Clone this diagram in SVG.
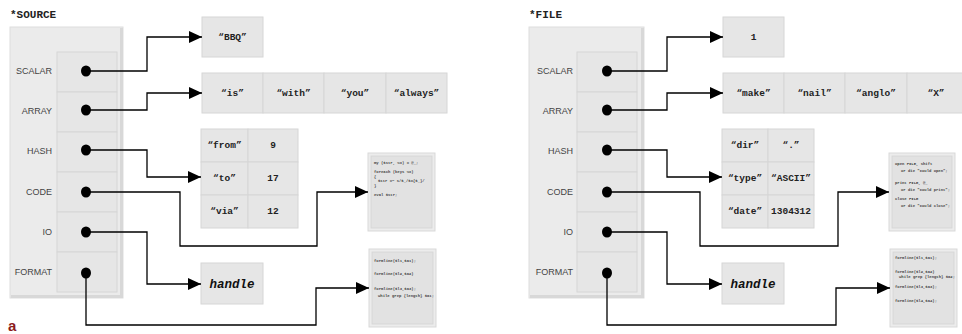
<svg xmlns="http://www.w3.org/2000/svg" width="962" height="334" viewBox="0 0 962 334">
  <style>
    .title { font-family: "Liberation Mono", monospace; font-weight: bold; font-size: 11px; fill: #222; }
    .slot { font-family: "Liberation Sans", Arial, sans-serif; font-size: 9px; fill: #444; text-anchor: end; }
    .val { font-family: "Liberation Mono", monospace; font-weight: bold; font-size: 9.5px; fill: #222; text-anchor: middle; }
    .fh { font-family: "Liberation Mono", monospace; font-weight: bold; font-style: italic; font-size: 12.5px; fill: #111; text-anchor: middle; }
    .code { font-family: "Liberation Mono", monospace; font-weight: bold; font-size: 3.9px; fill: #444; }
    .panel { fill: #ebebeb; stroke: #dedede; stroke-width: 1; }
    .shade { fill: #d8d8d8; }
    .cell { fill: #e6e6e6; stroke: #d6d6d6; stroke-width: 1; }
    .frame { fill: #ececec; stroke: #d9d9d9; stroke-width: 1; }
    .inner { fill: #e2e2e2; stroke: #d4d4d4; stroke-width: 0.8; }
    .dot { fill: #000; }
    .wire { fill: none; stroke: #000; stroke-width: 1.3; marker-end: url(#head); }
    .tag { font-family: "Liberation Sans", Arial, sans-serif; font-weight: bold; font-size: 15px; fill: #8b1c1c; }
  </style>
  <defs>
    <marker id="head" markerWidth="14" markerHeight="12" refX="13" refY="6" orient="auto" markerUnits="userSpaceOnUse">
      <path d="M0,0 L13,6 L0,12 Z" fill="#000"/>
    </marker>
  </defs>

  <rect width="962" height="334" fill="#fff"/>

  <!-- ===== glob *SOURCE ===== -->
  <g id="source-glob">
    <text class="title" x="10" y="18">*SOURCE</text>
    <rect class="panel" x="10" y="27" width="113" height="271"/>
    <rect class="shade" x="120" y="28" width="3" height="270"/>
    <rect class="shade" x="11" y="295" width="112" height="3"/>
    <rect class="cell" x="57" y="52" width="60" height="40"/>
    <rect class="cell" x="57" y="92" width="60" height="40"/>
    <rect class="cell" x="57" y="132" width="60" height="40"/>
    <rect class="cell" x="57" y="172" width="60" height="40"/>
    <rect class="cell" x="57" y="212" width="60" height="40"/>
    <rect class="cell" x="57" y="252" width="60" height="40"/>
    <text class="slot" x="52" y="74">SCALAR</text>
    <text class="slot" x="52" y="114">ARRAY</text>
    <text class="slot" x="52" y="154">HASH</text>
    <text class="slot" x="52" y="195">CODE</text>
    <text class="slot" x="52" y="235">IO</text>
    <text class="slot" x="52" y="275">FORMAT</text>
    <ellipse class="dot" cx="86" cy="71" rx="5" ry="5.5"/>
    <ellipse class="dot" cx="86" cy="110" rx="5" ry="5.5"/>
    <ellipse class="dot" cx="86" cy="150" rx="5" ry="5.5"/>
    <ellipse class="dot" cx="86" cy="192" rx="5" ry="5.5"/>
    <ellipse class="dot" cx="86" cy="232" rx="5" ry="5.5"/>
    <ellipse class="dot" cx="86" cy="273" rx="5" ry="5.5"/>
  </g>

  <g id="source-scalar">
    <rect class="cell" x="202" y="17" width="61" height="40"/>
    <text class="val" x="232.5" y="40">“BBQ”</text>
  </g>

  <g id="source-array">
    <rect class="cell" x="202" y="73" width="61" height="40"/>
    <rect class="cell" x="263" y="73" width="61" height="40"/>
    <rect class="cell" x="324" y="73" width="62" height="40"/>
    <rect class="cell" x="386" y="73" width="61" height="40"/>
    <text class="val" x="232.5" y="96">“is”</text>
    <text class="val" x="293.5" y="96">“with”</text>
    <text class="val" x="355" y="96">“you”</text>
    <text class="val" x="416.5" y="96">“always”</text>
  </g>

  <g id="source-hash">
    <rect class="cell" x="201" y="129" width="47" height="33"/>
    <rect class="cell" x="248" y="129" width="50" height="33"/>
    <rect class="cell" x="201" y="162" width="47" height="33"/>
    <rect class="cell" x="248" y="162" width="50" height="33"/>
    <rect class="cell" x="201" y="195" width="47" height="33"/>
    <rect class="cell" x="248" y="195" width="50" height="33"/>
    <text class="val" x="224.5" y="148">“from”</text>
    <text class="val" x="273" y="148">9</text>
    <text class="val" x="224.5" y="181">“to”</text>
    <text class="val" x="273" y="181">17</text>
    <text class="val" x="224.5" y="214">“via”</text>
    <text class="val" x="273" y="214">12</text>
  </g>

  <g id="source-code">
    <rect class="frame" x="368" y="153" width="67" height="78"/>
    <rect class="inner" x="371" y="156" width="61" height="72"/>
    <text class="code" x="374" y="164">my ($str, %x) = @_;</text>
    <text class="code" x="374" y="173">foreach (keys %x)</text>
    <text class="code" x="374" y="177.5">{</text>
    <text class="code" x="378" y="182">$str =~ s/$_/$x{$_}/</text>
    <text class="code" x="374" y="186.5">}</text>
    <text class="code" x="374" y="195.5">eval $str;</text>
  </g>

  <g id="source-io">
    <rect class="cell" x="201" y="263" width="62" height="41"/>
    <text class="fh" x="232" y="287.5">handle</text>
  </g>

  <g id="source-format">
    <rect class="frame" x="369" y="249" width="67" height="78"/>
    <rect class="inner" x="372" y="252" width="61" height="72"/>
    <text class="code" x="374" y="262">formline($l1,$a1);</text>
    <text class="code" x="374" y="275">formline($l2,$a2)</text>
    <text class="code" x="374" y="290">formline($l3,$a3);</text>
    <text class="code" x="378" y="297">while grep {length} $a1;</text>
  </g>

  <!-- ===== glob *FILE ===== -->
  <g id="file-glob">
    <text class="title" x="529" y="18">*FILE</text>
    <rect class="panel" x="529" y="27" width="115" height="271"/>
    <rect class="shade" x="641" y="28" width="3" height="270"/>
    <rect class="shade" x="530" y="295" width="114" height="3"/>
    <rect class="cell" x="577" y="52" width="60" height="40"/>
    <rect class="cell" x="577" y="92" width="60" height="40"/>
    <rect class="cell" x="577" y="132" width="60" height="40"/>
    <rect class="cell" x="577" y="172" width="60" height="40"/>
    <rect class="cell" x="577" y="212" width="60" height="40"/>
    <rect class="cell" x="577" y="252" width="60" height="40"/>
    <text class="slot" x="573" y="74">SCALAR</text>
    <text class="slot" x="573" y="114">ARRAY</text>
    <text class="slot" x="573" y="154">HASH</text>
    <text class="slot" x="573" y="195">CODE</text>
    <text class="slot" x="573" y="235">IO</text>
    <text class="slot" x="573" y="275">FORMAT</text>
    <ellipse class="dot" cx="607" cy="71" rx="5" ry="5.5"/>
    <ellipse class="dot" cx="607" cy="110" rx="5" ry="5.5"/>
    <ellipse class="dot" cx="607" cy="150" rx="5" ry="5.5"/>
    <ellipse class="dot" cx="607" cy="192" rx="5" ry="5.5"/>
    <ellipse class="dot" cx="607" cy="232" rx="5" ry="5.5"/>
    <ellipse class="dot" cx="607" cy="273" rx="5" ry="5.5"/>
  </g>

  <g id="file-scalar">
    <rect class="cell" x="723" y="17" width="61" height="40"/>
    <text class="val" x="753.5" y="40">1</text>
  </g>

  <g id="file-array">
    <rect class="cell" x="723" y="73" width="61" height="40"/>
    <rect class="cell" x="784" y="73" width="61" height="40"/>
    <rect class="cell" x="845" y="73" width="62" height="40"/>
    <rect class="cell" x="907" y="73" width="61" height="40"/>
    <text class="val" x="753.5" y="96">“make”</text>
    <text class="val" x="814.5" y="96">“nail”</text>
    <text class="val" x="876" y="96">“anglo”</text>
    <text class="val" x="936" y="96">“X”</text>
  </g>

  <g id="file-hash">
    <rect class="cell" x="722" y="129" width="46" height="33"/>
    <rect class="cell" x="768" y="129" width="46" height="33"/>
    <rect class="cell" x="722" y="162" width="46" height="33"/>
    <rect class="cell" x="768" y="162" width="46" height="33"/>
    <rect class="cell" x="722" y="195" width="46" height="33"/>
    <rect class="cell" x="768" y="195" width="46" height="33"/>
    <text class="val" x="745" y="148">“dir”</text>
    <text class="val" x="791" y="148">“.”</text>
    <text class="val" x="745" y="181">“type”</text>
    <text class="val" x="791" y="181">“ASCII”</text>
    <text class="val" x="745" y="214">“date”</text>
    <text class="val" x="791" y="214">1304312</text>
  </g>

  <g id="file-code">
    <rect class="frame" x="889" y="153" width="66" height="78"/>
    <rect class="inner" x="892" y="156" width="60" height="72"/>
    <text class="code" x="895" y="165">open FILE, shift</text>
    <text class="code" x="901" y="171.5">or die "Could open";</text>
    <text class="code" x="895" y="184">print FILE, @_</text>
    <text class="code" x="901" y="190.5">or die "Could print";</text>
    <text class="code" x="895" y="200">close FILE</text>
    <text class="code" x="901" y="206.5">or die "Could close";</text>
  </g>

  <g id="file-io">
    <rect class="cell" x="722" y="263" width="62" height="41"/>
    <text class="fh" x="753" y="287.5">handle</text>
  </g>

  <g id="file-format">
    <rect class="frame" x="890" y="249" width="67" height="78"/>
    <rect class="inner" x="893" y="252" width="61" height="72"/>
    <text class="code" x="895" y="259">formline($l1,$a1);</text>
    <text class="code" x="895" y="273">formline($l2,$a2)</text>
    <text class="code" x="899" y="277.5">while grep {length} $a2;</text>
    <text class="code" x="895" y="288">formline($l3,$a3);</text>
    <text class="code" x="895" y="302">formline($l4,$a4);</text>
  </g>

  <!-- ===== connectors: slot references ===== -->
  <g id="connectors">
    <path class="wire" d="M86,71 H147 V37 H202"/>
    <path class="wire" d="M86,110 H147 V93 H202"/>
    <path class="wire" d="M86,150 H147 V177 H201"/>
    <path class="wire" d="M86,192 H180 V246 H317 V192 H368"/>
    <path class="wire" d="M86,232 H147 V284 H201"/>
    <path class="wire" d="M86,273 V325 H316 V288 H369"/>

    <path class="wire" d="M607,71 H667 V37 H723"/>
    <path class="wire" d="M607,110 H667 V93 H723"/>
    <path class="wire" d="M607,150 H667 V177 H722"/>
    <path class="wire" d="M607,192 H700 V246 H838 V192 H889"/>
    <path class="wire" d="M607,232 H667 V284 H722"/>
    <path class="wire" d="M607,273 V325 H836 V288 H890"/>
  </g>

  <text class="tag" x="8" y="331">a</text>
</svg>
